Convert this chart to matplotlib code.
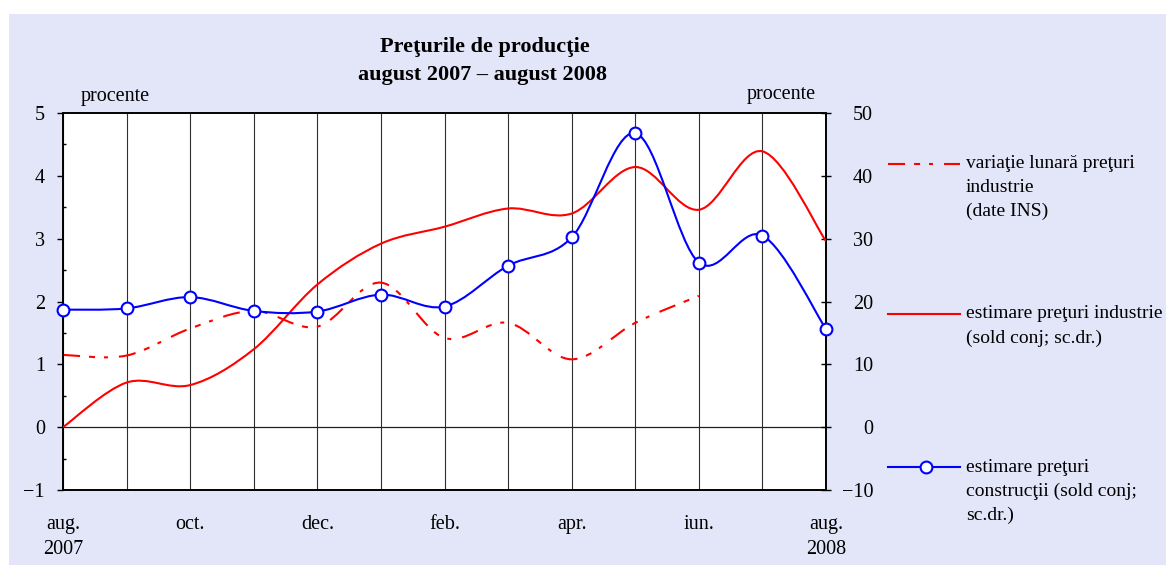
import matplotlib
matplotlib.use("Agg")
import matplotlib.pyplot as plt
from matplotlib.path import Path
from matplotlib.patches import PathPatch, Rectangle
from matplotlib.lines import Line2D
import numpy as np

plt.rcParams['font.family'] = ['Liberation Serif', 'DejaVu Serif']

# ---- data ----
months = ['aug. 2007', 'sep.', 'oct.', 'nov.', 'dec.', 'ian.', 'feb.', 'mar.',
          'apr.', 'mai', 'iun.', 'iul.', 'aug. 2008']
tick_labels = ['aug.\n2007', '', 'oct.', '', 'dec.', '', 'feb.', '',
               'apr.', '', 'iun.', '', 'aug.\n2008']
# variatie lunara preturi industrie (date INS), left axis, aug 2007 - iun 2008
ins_monthly = [1.15, 1.14, 1.57, 1.85, 1.60, 2.30, 1.42, 1.66, 1.08, 1.66, 2.09]
# estimare preturi industrie (sold conj; sc.dr.)
ind_estimate = [0.0, 7.1, 6.7, 12.4, 22.7, 29.2, 31.9, 34.8, 34.0, 41.4, 34.6, 43.9, 29.6]
# estimare preturi constructii (sold conj; sc.dr.)
constr_estimate = [18.7, 18.9, 20.7, 18.5, 18.4, 21.1, 19.2, 25.7, 30.2, 46.8, 26.2, 30.5, 15.6]

left_ticks = [-1, 0, 1, 2, 3, 4, 5]
right_ticks = [-10, 0, 10, 20, 30, 40, 50]

W, H = 1166, 565
fig = plt.figure(figsize=(W / 100, H / 100), dpi=100)
fig.patch.set_facecolor('white')
fig.add_artist(Rectangle((9 / W, 0), 1 - 9 / W, (H - 14) / H, transform=fig.transFigure,
                         facecolor='#e3e5f8', edgecolor='none', zorder=-10))

x0, x1, ytop, ybot = 63, 826, 113, 490
ax = fig.add_axes([x0 / W, (H - ybot) / H, (x1 - x0) / W, (ybot - ytop) / H])
ax.set_facecolor('white')
ax2 = ax.twinx()

xs = np.arange(len(months))


def smooth_path(x, y):
    n = len(x)
    verts = [(x[0], y[0])]
    codes = [Path.MOVETO]
    for i in range(n - 1):
        p0 = i - 1 if i > 0 else i
        p3 = i + 2 if i + 2 < n else i + 1
        c1 = (x[i] + (x[i + 1] - x[p0]) / 6.0, y[i] + (y[i + 1] - y[p0]) / 6.0)
        c2 = (x[i + 1] - (x[p3] - x[i]) / 6.0, y[i + 1] - (y[p3] - y[i]) / 6.0)
        verts += [c1, c2, (x[i + 1], y[i + 1])]
        codes += [Path.CURVE4] * 3
    return Path(verts, codes)


lw = 1.5
dash = (0, (8.2, 4.3, 2.9, 4.3, 1.9, 5.3))

# left axis series
p_ins = PathPatch(smooth_path(xs[:len(ins_monthly)], ins_monthly), fill=False,
                  edgecolor='#ff0000', lw=lw, linestyle=dash, transform=ax.transData,
                  zorder=3, capstyle='butt')
ax.add_patch(p_ins)

# right axis series
p_ind = PathPatch(smooth_path(xs, ind_estimate), fill=False, edgecolor='#ff0000', lw=lw,
                  transform=ax2.transData, zorder=3)
ax2.add_patch(p_ind)
p_con = PathPatch(smooth_path(xs, constr_estimate), fill=False, edgecolor='#0000ff', lw=lw,
                  transform=ax2.transData, zorder=4)
ax2.add_patch(p_con)
ax2.plot(xs, constr_estimate, linestyle='none', marker='o', ms=8.5, mfc='white',
         mec='#0000ff', mew=1.5, zorder=5, clip_on=False)

ax.set_xlim(0, 12)
ax.set_ylim(-1, 5)
ax2.set_ylim(-10, 50)

ax.set_xticks(xs)
ax.set_xticklabels(tick_labels, fontsize=14.5, multialignment='center', linespacing=1.45)
ax.tick_params(axis='x', length=0, pad=18)
ax.grid(axis='x', color='#303030', lw=0.8)
ax.axhline(0, color='#202020', lw=0.9, zorder=2)

ax.set_yticks(left_ticks)
ax.set_yticklabels([str(v).replace('-', '\u2212') for v in left_ticks], fontsize=14.5)
ax.set_yticks(np.arange(-0.5, 5.0, 1.0), minor=True)
ax.tick_params(axis='y', which='major', direction='out', length=4, width=1, pad=9)
ax.tick_params(axis='y', which='minor', direction='in', length=2, width=1)

ax2.set_yticks(right_ticks)
ax2.set_yticklabels([str(v).replace('-', '\u2212') for v in right_ticks], fontsize=14.5,
                    ha='right')
ax2.tick_params(axis='y', direction='inout', length=7, width=1, pad=30.5)

for a in (ax, ax2):
    for s in a.spines.values():
        s.set_linewidth(1.2)
        s.set_color('black')

# titles & unit labels
fig.text(485 / W, 1 - 47 / H, 'Preţurile de producţie', ha='center', va='center',
         fontsize=16, fontweight='bold')
fig.text(483 / W, 1 - 75 / H, 'august 2007 – august 2008', ha='center', va='center',
         fontsize=16, fontweight='bold')
fig.text(115 / W, 1 - 97 / H, 'procente', ha='center', va='center', fontsize=14.5)
fig.text(781 / W, 1 - 95 / H, 'procente', ha='center', va='center', fontsize=14.5)

# legend (drawn manually)
lx0, lx1, tx = 888 / W, 960 / W, 966 / W


def fy(y):
    return 1 - y / H


fig.add_artist(Line2D([lx0, lx1], [fy(164), fy(164)], color='#ff0000', lw=lw,
                      linestyle=dash, transform=fig.transFigure))
fig.add_artist(Line2D([lx0, lx1], [fy(314), fy(314)], color='#ff0000', lw=lw,
                      transform=fig.transFigure))
fig.add_artist(Line2D([lx0, lx1], [fy(467), fy(467)], color='#0000ff', lw=lw,
                      transform=fig.transFigure))
fig.add_artist(Line2D([926 / W], [fy(467)], color='#0000ff', marker='o', ms=8.5, mfc='white',
                      mec='#0000ff', mew=1.5, linestyle='none', transform=fig.transFigure))

legend_lines = [
    (163, 'variaţie lunară preţuri'), (187, 'industrie'), (211, '(date INS)'),
    (314, 'estimare preţuri industrie'), (338, '(sold conj; sc.dr.)'),
    (467, 'estimare preţuri'), (491, 'construcţii (sold conj;'), (515, 'sc.dr.)'),
]
for y, t in legend_lines:
    fig.text(tx, fy(y), t, ha='left', va='center', fontsize=14.0)

fig.savefig('out.png', dpi=100, facecolor=fig.get_facecolor())
